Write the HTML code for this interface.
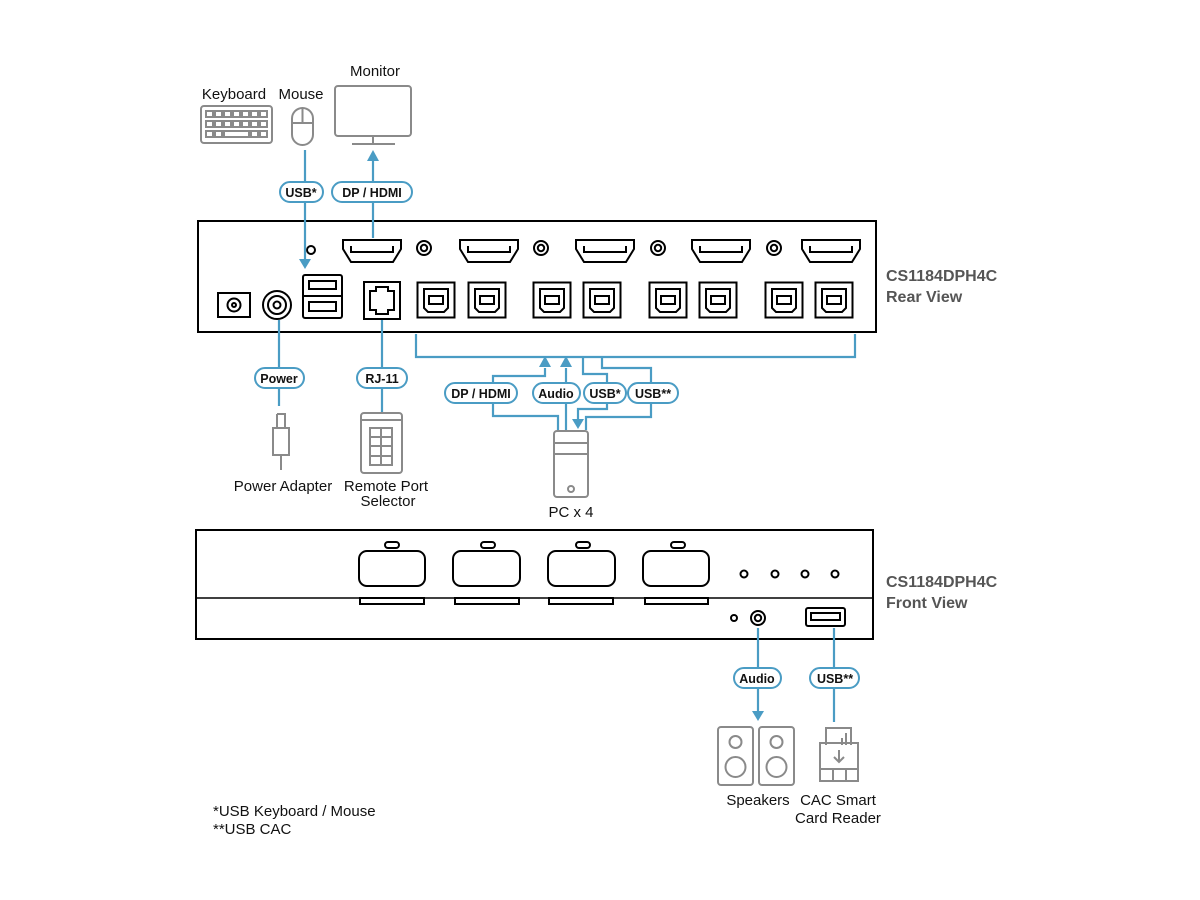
<!DOCTYPE html>
<html><head><meta charset="utf-8"><style>
html,body{margin:0;padding:0;background:#fff;}
svg{display:block;font-family:"Liberation Sans",Arial,sans-serif;}
.b{stroke:#4a9cc4;stroke-width:2.2;fill:none;}
.ah{fill:#4a9cc4;}
.k{stroke:#000;fill:none;stroke-width:2;}
.g{stroke:#8a8a8a;fill:none;stroke-width:2;}
.pill{fill:#fff;stroke:#4a9cc4;stroke-width:2;}
.pt{font-weight:bold;font-size:12.5px;fill:#111;text-anchor:middle;}
.lt{font-size:15px;fill:#111;text-anchor:middle;}
.ttl{font-weight:bold;font-size:16px;fill:#555;}
</style></head><body>
<svg width="1200" height="900" viewBox="0 0 1200 900" xmlns="http://www.w3.org/2000/svg">
<defs>
<g id="hdmi">
<path d="M-29,-11 H29 V-2 L21,11 H-21 L-29,-2 Z" class="k"/>
<path d="M-21,-5 V1 H21 V-5" class="k" stroke-width="1.5"/>
</g>
<g id="ub">
<rect x="-18.5" y="-17.5" width="37" height="35" class="k"/>
<path d="M-12,-11 H12 V8 L8,12 H-8 L-12,8 Z" class="k" stroke-width="1.6"/>
<rect x="-7" y="-4" width="14" height="8" class="k" stroke-width="1.6"/>
</g>
<g id="jack"><circle r="7" class="k"/><circle r="3.2" class="k" stroke-width="1.5"/></g>
</defs>

<!-- Rear panel -->
<rect x="198" y="221" width="678" height="111" class="k" stroke-width="3.5"/>
<circle cx="311" cy="250" r="4" class="k" stroke-width="1.5"/>
<use href="#hdmi" x="372" y="251"/>
<use href="#hdmi" x="489" y="251"/>
<use href="#hdmi" x="605" y="251"/>
<use href="#hdmi" x="721" y="251"/>
<use href="#hdmi" x="831" y="251"/>
<use href="#jack" x="424" y="248"/>
<use href="#jack" x="541" y="248"/>
<use href="#jack" x="658" y="248"/>
<use href="#jack" x="774" y="248"/>
<use href="#ub" x="436" y="300"/><use href="#ub" x="487" y="300"/>
<use href="#ub" x="552" y="300"/><use href="#ub" x="602" y="300"/>
<use href="#ub" x="668" y="300"/><use href="#ub" x="718" y="300"/>
<use href="#ub" x="784" y="300"/><use href="#ub" x="834" y="300"/>
<rect x="218" y="293" width="32" height="24" class="k"/>
<circle cx="234" cy="305" r="6.5" class="k" stroke-width="1.5"/><circle cx="234" cy="305" r="2" class="k" stroke-width="1.3"/>
<circle cx="277" cy="305" r="14" class="k"/><circle cx="277" cy="305" r="9" class="k" stroke-width="1.5"/><circle cx="277" cy="305" r="3.5" class="k" stroke-width="1.5"/>
<rect x="303" y="275" width="39" height="43" rx="2" class="k"/>
<line x1="303" y1="296" x2="342" y2="296" class="k" stroke-width="1.5"/>
<rect x="309" y="281" width="27" height="8" class="k" stroke-width="1.5"/>
<rect x="309" y="302" width="27" height="9" class="k" stroke-width="1.5"/>
<rect x="364" y="282" width="36" height="37" class="k"/>
<path d="M370,291 H376 V287 H388 V291 H394 V310 H388 V314 H376 V310 H370 Z" class="k" stroke-width="1.5"/>

<text x="886" y="281" class="ttl">CS1184DPH4C</text>
<text x="886" y="302" class="ttl">Rear View</text>

<!-- top devices -->
<text x="234" y="99" class="lt">Keyboard</text>
<text x="301" y="99" class="lt">Mouse</text>
<text x="375" y="76" class="lt">Monitor</text>
<rect x="201" y="106" width="71" height="37" rx="3" class="g"/>
<g class="g" stroke-width="1.5">
<rect x="206" y="111" width="7" height="6"/><rect x="215" y="111" width="7" height="6"/><rect x="224" y="111" width="7" height="6"/><rect x="233" y="111" width="7" height="6"/><rect x="242" y="111" width="7" height="6"/><rect x="251" y="111" width="7" height="6"/><rect x="260" y="111" width="7" height="6"/>
<rect x="206" y="121" width="7" height="6"/><rect x="215" y="121" width="7" height="6"/><rect x="224" y="121" width="7" height="6"/><rect x="233" y="121" width="7" height="6"/><rect x="242" y="121" width="7" height="6"/><rect x="251" y="121" width="7" height="6"/><rect x="260" y="121" width="7" height="6"/>
<rect x="206" y="131" width="7" height="6"/><rect x="215" y="131" width="7" height="6"/><rect x="224" y="131" width="25" height="6"/><rect x="251" y="131" width="7" height="6"/><rect x="260" y="131" width="7" height="6"/>
</g>
<rect x="292" y="108" width="21" height="37" rx="10.5" class="g"/>
<line x1="292" y1="123" x2="313" y2="123" class="g" stroke-width="1.5"/>
<line x1="302.5" y1="108" x2="302.5" y2="123" class="g" stroke-width="1.5"/>
<rect x="335" y="86" width="76" height="50" rx="3" class="g"/>
<line x1="373" y1="136" x2="373" y2="144" class="g"/>
<line x1="352" y1="144" x2="395" y2="144" class="g"/>

<line x1="305" y1="150" x2="305" y2="260" class="b"/>
<path d="M299,259 L311,259 L305,269 Z" class="ah"/>
<rect x="280" y="182" width="43" height="20" rx="10" class="pill"/>
<text x="301" y="197" class="pt">USB*</text>
<line x1="373" y1="160" x2="373" y2="238" class="b"/>
<path d="M367,161 L379,161 L373,150 Z" class="ah"/>
<rect x="332" y="182" width="80" height="20" rx="10" class="pill"/>
<text x="372" y="197" class="pt">DP / HDMI</text>

<!-- below rear -->
<line x1="279" y1="320" x2="279" y2="406" class="b"/>
<rect x="255" y="368" width="49" height="20" rx="10" class="pill"/>
<text x="279" y="383" class="pt">Power</text>
<line x1="382" y1="320" x2="382" y2="413" class="b"/>
<rect x="357" y="368" width="50" height="20" rx="10" class="pill"/>
<text x="382" y="383" class="pt">RJ-11</text>
<path d="M277,414 H285 V428 M277,414 V428 M273,428 H289 V455 H273 Z M281,455 V470" class="g"/>
<text x="283" y="491" class="lt">Power Adapter</text>
<rect x="361" y="413" width="41" height="60" rx="3" class="g"/>
<line x1="361" y1="420" x2="402" y2="420" class="g" stroke-width="1.5"/>
<rect x="370" y="428" width="22" height="37" class="g"/>
<path d="M381,428 V465 M370,437 H392 M370,446 H392 M370,456 H392" class="g" stroke-width="1.5"/>
<text x="386" y="491" class="lt">Remote Port</text>
<text x="388" y="506" class="lt">Selector</text>

<!-- bus -->
<path d="M416,334 V357 H855 V334" class="b"/>
<path d="M545,368 V376 H493 V384" class="b"/>
<path d="M539,367 L551,367 L545,356 Z" class="ah"/>
<path d="M566,368 V430" class="b"/>
<path d="M560,367 L572,367 L566,356 Z" class="ah"/>
<path d="M583,357 V374 H607 V384" class="b"/>
<path d="M602,357 V368 H651 V384" class="b"/>
<path d="M493,402 V416 H558 V430" class="b"/>
<path d="M607,402 V409 H578 V420" class="b"/>
<path d="M572,419 L584,419 L578,429 Z" class="ah"/>
<path d="M651,402 V417 H586 V430" class="b"/>
<rect x="445" y="383" width="72" height="20" rx="10" class="pill"/>
<text x="481" y="398" class="pt">DP / HDMI</text>
<rect x="533" y="383" width="47" height="20" rx="10" class="pill"/>
<text x="556" y="398" class="pt">Audio</text>
<rect x="584" y="383" width="42" height="20" rx="10" class="pill"/>
<text x="605" y="398" class="pt">USB*</text>
<rect x="628" y="383" width="50" height="20" rx="10" class="pill"/>
<text x="653" y="398" class="pt">USB**</text>
<rect x="554" y="431" width="34" height="66" rx="3" class="g"/>
<path d="M554,443 H588 M554,454 H588" class="g" stroke-width="1.5"/>
<circle cx="571" cy="489" r="3" class="g" stroke-width="1.5"/>
<text x="571" y="517" class="lt">PC x 4</text>

<!-- front panel -->
<rect x="196" y="530" width="677" height="109" class="k" stroke-width="3.5"/>
<line x1="196" y1="598" x2="873" y2="598" stroke="#000" stroke-width="1.5"/>
<g class="k" stroke-width="1.8">
<rect x="359" y="551" width="66" height="35" rx="8"/><rect x="453" y="551" width="67" height="35" rx="8"/><rect x="548" y="551" width="67" height="35" rx="8"/><rect x="643" y="551" width="66" height="35" rx="8"/>
<rect x="385" y="542" width="14" height="6" rx="3"/><rect x="481" y="542" width="14" height="6" rx="3"/><rect x="576" y="542" width="14" height="6" rx="3"/><rect x="671" y="542" width="14" height="6" rx="3"/>
<rect x="360" y="598" width="64" height="6"/><rect x="455" y="598" width="64" height="6"/><rect x="549" y="598" width="64" height="6"/><rect x="645" y="598" width="63" height="6"/>
<circle cx="744" cy="574" r="3.5"/><circle cx="775" cy="574" r="3.5"/><circle cx="805" cy="574" r="3.5"/><circle cx="835" cy="574" r="3.5"/>
<circle cx="734" cy="618" r="3"/>
<rect x="806" y="608" width="39" height="18" rx="2"/><rect x="811" y="613" width="29" height="7"/>
</g>
<use href="#jack" x="758" y="618"/>
<text x="886" y="587" class="ttl">CS1184DPH4C</text>
<text x="886" y="608" class="ttl">Front View</text>

<line x1="758" y1="628" x2="758" y2="712" class="b"/>
<path d="M752,711 L764,711 L758,721 Z" class="ah"/>
<rect x="734" y="668" width="47" height="20" rx="10" class="pill"/>
<text x="757" y="683" class="pt">Audio</text>
<line x1="834" y1="628" x2="834" y2="722" class="b"/>
<rect x="810" y="668" width="49" height="20" rx="10" class="pill"/>
<text x="835" y="683" class="pt">USB**</text>

<rect x="718" y="727" width="35" height="58" rx="3" class="g"/>
<rect x="759" y="727" width="35" height="58" rx="3" class="g"/>
<circle cx="735.5" cy="742" r="6" class="g"/><circle cx="735.5" cy="767" r="10" class="g"/>
<circle cx="776.5" cy="742" r="6" class="g"/><circle cx="776.5" cy="767" r="10" class="g"/>
<path d="M826,745 V728 H851 V745" class="g"/>
<path d="M842,745 V738 M846,745 V733" class="g" stroke-width="1.5"/>
<rect x="820" y="743" width="38" height="38" class="g"/>
<path d="M820,769 H858 M833,769 V781 M846,769 V781" class="g" stroke-width="1.5"/>
<path d="M839,750 V762 M834,757 L839,762 L844,757" class="g" stroke-width="1.5"/>
<text x="758" y="805" class="lt">Speakers</text>
<text x="838" y="805" class="lt">CAC Smart</text>
<text x="838" y="823" class="lt">Card Reader</text>

<text x="213" y="816" font-size="15" fill="#111">*USB Keyboard / Mouse</text>
<text x="213" y="834" font-size="15" fill="#111">**USB CAC</text>
</svg>
</body></html>
